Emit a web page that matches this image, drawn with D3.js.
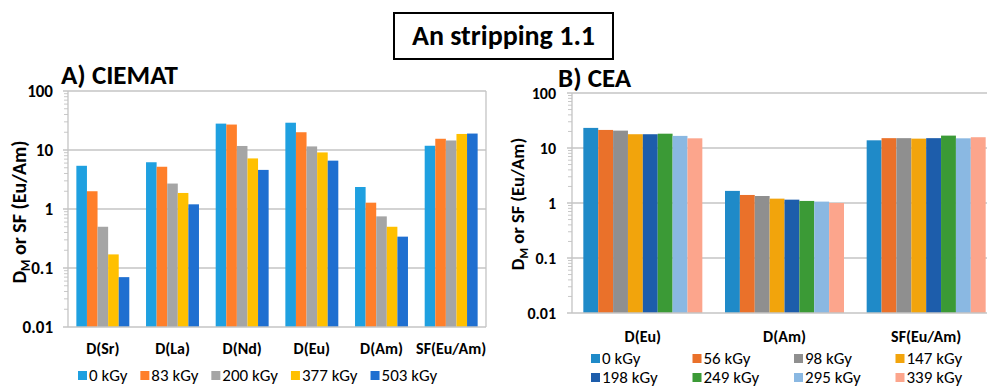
<!DOCTYPE html>
<html>
<head>
<meta charset="utf-8">
<script src="https://cdn.jsdelivr.net/npm/d3@7"></script>
<style>
  body { margin: 0; background: #fff; }
  svg { display: block; font-family: Carlito, 'Liberation Sans Narrow', Roboto, sans-serif; }
</style>
</head>
<body>
<div id="chart"></div>
<script>
// tick labels shared by both panels
const tickValues = [0.01, 0.1, 1, 10, 100];
const tickLabels = ['0.01', '0.1', '1', '10', '100'];

// A) CIEMAT
const ciematCategories = ['D(Sr)', 'D(La)', 'D(Nd)', 'D(Eu)', 'D(Am)', 'SF(Eu/Am)'];
const ciematDoses = ['0 kGy', '83 kGy', '200 kGy', '377 kGy', '503 kGy'];
const ciematColors = ['#1fa0e0', '#ff7f2a', '#a5a5a5', '#ffc000', '#1f6fd0'];
const ciemat0 = [5.4, 6.2, 28, 29, 2.36, 11.8];
const ciemat83 = [2.0, 5.2, 27, 20, 1.28, 15.5];
const ciemat200 = [0.5, 2.7, 11.7, 11.5, 0.75, 14.5];
const ciemat377 = [0.17, 1.87, 7.2, 9.1, 0.5, 18.7];
const ciemat503 = [0.07, 1.2, 4.6, 6.6, 0.34, 19];

// B) CEA
const ceaCategories = ['D(Eu)', 'D(Am)', 'SF(Eu/Am)'];
const ceaDoses = ['0 kGy', '56 kGy', '98 kGy', '147 kGy', '198 kGy', '249 kGy', '295 kGy', '339 kGy'];
const ceaColors = ['#1f8ac8', '#ea712a', '#8f8f8f', '#f2a40c', '#1d5dab', '#3b9a36', '#8ab8e2', '#fca58c'];
const cea0 = [23.2, 1.66, 13.8];
const cea56 = [21.3, 1.40, 15.1];
const cea98 = [20.7, 1.34, 15.1];
const cea147 = [17.8, 1.20, 14.8];
const cea198 = [17.8, 1.15, 15.1];
const cea249 = [18.2, 1.09, 16.8];
const cea295 = [16.6, 1.06, 15.0];
const cea339 = [15.0, 1.0, 15.7];

const W = 987;
const H = 388;

const svg = d3.select('#chart')
  .append('svg')
  .attr('width', W)
  .attr('height', H);

svg.append('rect').attr('width', W).attr('height', H).attr('fill', '#fff');

// title box
svg.append('rect')
  .attr('x', 394).attr('y', 13)
  .attr('width', 219).attr('height', 46)
  .attr('fill', '#fff')
  .attr('stroke', '#000')
  .attr('stroke-width', 2);
svg.append('text')
  .attr('x', 503.5).attr('y', 45)
  .attr('text-anchor', 'middle')
  .style('font-size', '28px')
  .style('font-weight', 'bold')
  .text('An stripping 1.1');

function drawPanel(opt) {
  const g = svg.append('g');
  const x = d3.scaleBand()
    .domain(opt.categories)
    .range([opt.left, opt.right])
    .paddingInner(opt.padding)
    .paddingOuter(opt.padding / 2);
  const y = d3.scaleLog()
    .domain([0.01, 100])
    .range([opt.bottom, opt.top]);
  const xs = d3.scaleBand()
    .domain(opt.doses)
    .range([0, x.bandwidth()]);

  // gridlines
  g.append('g')
    .selectAll('line')
    .data(tickValues.slice(1))
    .enter()
    .append('line')
    .attr('x1', opt.left - 5)
    .attr('x2', opt.right)
    .attr('y1', d => y(d))
    .attr('y2', d => y(d))
    .attr('stroke', '#c4c4c4')
    .attr('stroke-width', 1.3);

  if (opt.frame) {
    g.append('line')
      .attr('x1', opt.right).attr('x2', opt.right)
      .attr('y1', opt.top).attr('y2', opt.bottom)
      .attr('stroke', '#c4c4c4').attr('stroke-width', 1.3);
  }

  // minor ticks on the log axis
  const minor = y.ticks().filter(d => tickValues.indexOf(d) < 0);
  g.append('g')
    .selectAll('line')
    .data(minor)
    .enter()
    .append('line')
    .attr('x1', opt.left - 4)
    .attr('x2', opt.left)
    .attr('y1', d => y(d))
    .attr('y2', d => y(d))
    .attr('stroke', '#c8c8c8')
    .attr('stroke-width', 1);

  // bars
  opt.series.forEach((vals, i) => {
    g.append('g')
      .selectAll('rect')
      .data(vals)
      .enter()
      .append('rect')
      .attr('x', (d, j) => x(opt.categories[j]) + xs(opt.doses[i]))
      .attr('width', xs.bandwidth())
      .attr('y', d => y(d))
      .attr('height', d => y(0.01) - y(d))
      .attr('fill', opt.colors[i]);
  });

  // axis lines
  g.append('line')
    .attr('x1', opt.left).attr('x2', opt.left)
    .attr('y1', opt.top).attr('y2', opt.bottom)
    .attr('stroke', '#c4c4c4').attr('stroke-width', 1.3);
  g.append('line')
    .attr('x1', opt.left - 5).attr('x2', opt.right)
    .attr('y1', opt.bottom).attr('y2', opt.bottom)
    .attr('stroke', '#c4c4c4').attr('stroke-width', 1.3);

  // y tick labels
  g.append('g')
    .selectAll('text')
    .data(tickValues)
    .enter()
    .append('text')
    .attr('x', opt.left - opt.labelGap)
    .attr('y', d => y(d))
    .attr('dy', '0.35em')
    .attr('text-anchor', 'end')
    .style('font-size', opt.tickSize + 'px')
    .style('font-weight', 'bold')
    .text((d, i) => tickLabels[i]);

  // category labels
  g.append('g')
    .selectAll('text')
    .data(opt.categories)
    .enter()
    .append('text')
    .attr('x', d => x(d) + x.bandwidth() / 2)
    .attr('y', opt.catY)
    .attr('text-anchor', 'middle')
    .style('font-size', '16px')
    .style('font-weight', 'bold')
    .text(d => d);

  // y axis title
  const yt = g.append('text')
    .attr('transform', `translate(${opt.yTitleX}, ${opt.yTitleY}) rotate(-90)`)
    .attr('text-anchor', 'middle')
    .style('font-size', opt.yTitleSize + 'px')
    .style('font-weight', 'bold');
  yt.append('tspan').text('D');
  yt.append('tspan').attr('dy', 4).style('font-size', (opt.yTitleSize * 0.65) + 'px').text('M');
  yt.append('tspan').attr('dy', -4).text(' or SF (Eu/Am)');

  // panel title
  g.append('text')
    .attr('x', opt.titleX)
    .attr('y', opt.titleY)
    .style('font-size', '27px')
    .style('font-weight', 'bold')
    .text(opt.title);

  return g;
}

drawPanel({
  title: 'A) CIEMAT',
  titleX: 61,
  titleY: 84,
  categories: ciematCategories,
  doses: ciematDoses,
  colors: ciematColors,
  series: [ciemat0, ciemat83, ciemat200, ciemat377, ciemat503],
  left: 68,
  right: 486,
  top: 91,
  bottom: 327,
  padding: 0.24,
  labelGap: 15,
  tickSize: 17,
  catY: 354,
  yTitleX: 26,
  yTitleY: 212,
  yTitleSize: 20,
  frame: true,
});

drawPanel({
  title: 'B) CEA',
  titleX: 558,
  titleY: 87,
  categories: ceaCategories,
  doses: ceaDoses,
  colors: ceaColors,
  series: [cea0, cea56, cea98, cea147, cea198, cea249, cea295, cea339],
  left: 572,
  right: 997,
  top: 93,
  bottom: 313,
  padding: 0.16,
  labelGap: 16,
  tickSize: 16,
  catY: 342,
  yTitleX: 524,
  yTitleY: 204,
  yTitleSize: 18.5,
  frame: false,
});

// legends
function legendItem(x, y, color, label) {
  const g = svg.append('g').attr('transform', `translate(${x}, ${y})`);
  g.append('rect')
    .attr('x', 0).attr('y', -10)
    .attr('width', 9).attr('height', 9)
    .attr('fill', color);
  const t = g.append('text')
    .attr('x', 11).attr('y', 0)
    .style('font-size', '17px')
    .text(label);
  return 11 + t.node().getComputedTextLength();
}

// A) one row, laid out one after the other
let lx = 78;
ciematDoses.forEach((d, i) => {
  lx += legendItem(lx, 381, ciematColors[i], d) + 13;
});

// B) two rows of four
ceaDoses.forEach((d, i) => {
  legendItem(591 + (i % 4) * 101.5, i < 4 ? 364 : 383, ceaColors[i], d);
});
</script>
</body>
</html>
